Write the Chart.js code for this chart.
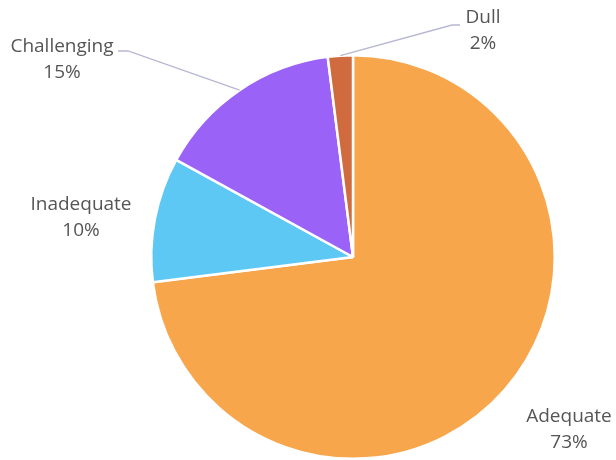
<!DOCTYPE html>
<html>
<head>
<meta charset="utf-8">
<script src="https://cdn.jsdelivr.net/npm/chart.js@4/dist/chart.umd.min.js"></script>
<style>
  html, body { margin: 0; padding: 0; background: #fff; overflow: hidden; }
  #wrap { width: 616px; height: 460px; }
</style>
</head>
<body>
<div id="wrap"><canvas id="pieChart" width="616" height="460"></canvas></div>
<script>
// data, clockwise from 12 o'clock
const categories = ['Adequate', 'Inadequate', 'Challenging', 'Dull'];
const shares = [73, 10, 15, 2];
const shareLabels = ['73%', '10%', '15%', '2%'];
const sliceColors = ['#F8A64C', '#5DC8F4', '#9A62F6', '#CF6B3E'];

// where each label sits, relative to the pie centre (px)
const labelPlace = [
    { dx: 216, dy: 165 },
    { dx: -272, dy: -47 },
    { dx: -291, dy: -205, line: [[-225, -206], [-235, -206]] },
    { dx: 130, dy: -234, line: [[99, -232], [107, -232]] }
];

const outsideLabels = {
    id: 'outsideLabels',
    afterDatasetsDraw(chart) {
        const ctx = chart.ctx;
        const arcs = chart.getDatasetMeta(0).data;
        ctx.save();
        arcs.forEach(function (arc, i) {
            const p = arc.getProps(['x', 'y', 'startAngle', 'endAngle', 'outerRadius'], true);
            const place = labelPlace[i];
            if (place.line) {
                const mid = (p.startAngle + p.endAngle) / 2;
                ctx.strokeStyle = '#B7B7D4';
                ctx.lineWidth = 1.3;
                ctx.beginPath();
                ctx.moveTo(p.x + Math.cos(mid) * p.outerRadius, p.y + Math.sin(mid) * p.outerRadius);
                place.line.forEach(function (pt) {
                    ctx.lineTo(p.x + pt[0], p.y + pt[1]);
                });
                ctx.stroke();
            }
            ctx.fillStyle = '#555555';
            ctx.font = '19px "Open Sans"';
            ctx.textAlign = 'center';
            ctx.textBaseline = 'alphabetic';
            ctx.fillText(categories[i], p.x + place.dx, p.y + place.dy);
            ctx.fillText(shareLabels[i], p.x + place.dx, p.y + place.dy + 26);
        });
        ctx.restore();
    }
};

const ctx = document.getElementById('pieChart').getContext('2d');
const myChart = new Chart(ctx, {
    type: 'pie',
    data: {
        labels: categories,
        datasets: [{
            data: shares,
            backgroundColor: sliceColors,
            borderColor: '#FFFFFF',
            borderWidth: 2.5,
            offset: 0,
            hoverOffset: 0
        }]
    },
    options: {
        responsive: false,
        animation: false,
        layout: { padding: { top: 54, left: 90, right: 0, bottom: 0 } },
        plugins: {
            legend: { display: false },
            tooltip: { enabled: false }
        }
    },
    plugins: [outsideLabels]
});
</script>
</body>
</html>
